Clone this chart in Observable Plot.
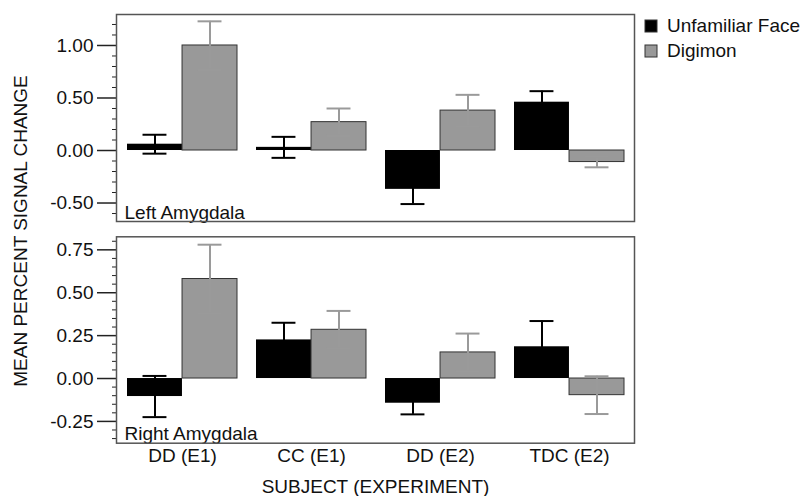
<!DOCTYPE html>
<html><head><meta charset="utf-8">
<script src="https://cdn.jsdelivr.net/npm/d3@7"></script>
<script src="https://cdn.jsdelivr.net/npm/@observablehq/plot@0.6"></script>
<style>
body{margin:0;background:#fff;}
#chart{position:relative;width:804px;height:496px;overflow:hidden;font-family:"Liberation Sans",Arial,sans-serif;color:#111;background:#fff;}
#chart svg{overflow:visible}
#top{position:absolute;left:0;top:0}
#bottom{position:absolute;left:0;top:225px}
#ytitle{position:absolute;left:20px;top:231px;transform:translate(-50%,-50%) rotate(-90deg);white-space:nowrap;font-size:19px;line-height:19px}
#legend{position:absolute;left:645px;top:15px}
#legend svg rect{stroke:#333;stroke-width:1}
#legend [class$="-swatch"]{padding-bottom:3px !important}
#legend [class$="-swatch"] > svg{margin-right:10px !important}
</style></head><body>
<div id="chart"><div id="top"></div><div id="bottom"></div><div id="ytitle">MEAN PERCENT SIGNAL CHANGE</div><div id="legend"></div></div>
<script>
const subjects = ["DD (E1)", "CC (E1)", "DD (E2)", "TDC (E2)"];
const conditions = ["Unfamiliar Face", "Digimon"];
const panelLabels = ["Left Amygdala", "Right Amygdala"];
const xTitle = "SUBJECT (EXPERIMENT)";

const leftUnfamiliar    = [0.06, 0.03, -0.37, 0.46];
const leftUnfamiliarErr = [0.09, 0.10, 0.14, 0.105];
const leftDigimon       = [1.00, 0.27, 0.38, -0.11];
const leftDigimonErr    = [0.23, 0.13, 0.15, 0.05];

const rightUnfamiliar    = [-0.105, 0.225, -0.144, 0.185];
const rightUnfamiliarErr = [0.12, 0.10, 0.065, 0.15];
const rightDigimon       = [0.58, 0.284, 0.152, -0.097];
const rightDigimonErr    = [0.20, 0.11, 0.11, 0.11];

const leftTicks = [-0.5, 0, 0.5, 1.0];
const leftMinor = [-0.6, -0.4, -0.3, -0.2, -0.1, 0.1, 0.2, 0.3, 0.4, 0.6, 0.7, 0.8, 0.9, 1.1, 1.2];
const rightTicks = [-0.25, 0, 0.25, 0.5, 0.75];
const rightMinor = [-0.35, -0.3, -0.2, -0.15, -0.1, -0.05, 0.05, 0.1, 0.15, 0.2, 0.3, 0.35, 0.4, 0.45, 0.55, 0.6, 0.65, 0.7, 0.8];

const colors = ["#000000", "#999999"];
const errColors = ["#000000", "#9a9a9a"];
const font = "'Liberation Sans', Arial, sans-serif";

function table(unf, unfErr, dig, digErr) {
  return subjects.flatMap((s, i) => [
    {subject: s, condition: conditions[0], value: unf[i], err: unfErr[i]},
    {subject: s, condition: conditions[1], value: dig[i], err: digErr[i]}
  ]);
}

const W = 804, ML = 116, MR = 170;
const PI = 0.15, PO = 0.075;
const step = (W - ML - MR) / (subjects.length - PI + 2 * PO);
const bw = step * (1 - PI);
const half = bw / 2;
const capW = 24;

function panel({data, domain, ticks, minor, label, height, marginTop, marginBottom, showX}) {
  const unf = data.filter(d => d.condition === conditions[0]);
  const dig = data.filter(d => d.condition === conditions[1]);
  const capU = {insetLeft: bw / 4 - capW / 2, insetRight: bw - (bw / 4 + capW / 2)};
  const capD = {insetLeft: 3 * bw / 4 - capW / 2, insetRight: bw - (3 * bw / 4 + capW / 2)};
  const err = (rows, color, dx, cap) => [
    Plot.ruleX(rows, {x: "subject", y1: d => d.value - d.err, y2: d => d.value + d.err, dx, stroke: color, strokeWidth: 2}),
    Plot.tickY(rows, {x: "subject", y: d => d.value + d.err, stroke: color, strokeWidth: 2, ...cap}),
    Plot.tickY(rows, {x: "subject", y: d => d.value - d.err, stroke: color, strokeWidth: 2, ...cap})
  ];
  return Plot.plot({
    width: W, height, marginLeft: ML, marginRight: MR, marginTop, marginBottom,
    style: {fontFamily: font, fontSize: "19px", color: "#111", background: "white", overflow: "visible"},
    x: {domain: subjects, paddingInner: PI, paddingOuter: PO, align: 0.5, axis: null},
    y: {domain, axis: null},
    marks: [
      Plot.barY(unf, {x: "subject", y: "value", fill: colors[0], insetLeft: 0, insetRight: half}),
      Plot.barY(dig, {x: "subject", y: "value", fill: colors[1], stroke: "#333", strokeWidth: 1, insetLeft: half, insetRight: 0}),
      ...err(unf, errColors[0], -half / 2, capU),
      ...err(dig, errColors[1], half / 2, capD),
      Plot.axisY(minor, {tickSize: 4, tickFormat: () => "", label: null, stroke: "#222"}),
      Plot.axisY(ticks, {tickSize: 19, tickPadding: 4, tickFormat: d => d.toFixed(2), label: null, fontSize: 19, stroke: "#222", strokeWidth: 1.5}),
      showX ? Plot.axisX(subjects, {tickSize: 0, tickPadding: 5, fontSize: 19, label: xTitle, labelAnchor: "center", labelOffset: 50}) : null,
      Plot.text([label], {text: d => d, frameAnchor: "bottom-left", dx: 8, dy: -3, textAnchor: "start", lineAnchor: "bottom", fontSize: 19, fill: "#111"}),
      Plot.frame({stroke: "#555", strokeWidth: 1.5})
    ]
  });
}

document.getElementById("top").append(panel({
  data: table(leftUnfamiliar, leftUnfamiliarErr, leftDigimon, leftDigimonErr),
  domain: [-0.676, 1.295], ticks: leftTicks, minor: leftMinor, label: panelLabels[0],
  height: 225, marginTop: 14, marginBottom: 4, showX: false
}));
document.getElementById("bottom").append(panel({
  data: table(rightUnfamiliar, rightUnfamiliarErr, rightDigimon, rightDigimonErr),
  domain: [-0.377, 0.826], ticks: rightTicks, minor: rightMinor, label: panelLabels[1],
  height: 271, marginTop: 11.3, marginBottom: 53.3, showX: true
}));
document.getElementById("legend").append(Plot.legend({
  color: {domain: conditions, range: colors},
  legend: "swatches", columns: 1, swatchSize: 12,
  style: {fontFamily: font, fontSize: "19px", color: "#111"}
}));
</script>
</body></html>
